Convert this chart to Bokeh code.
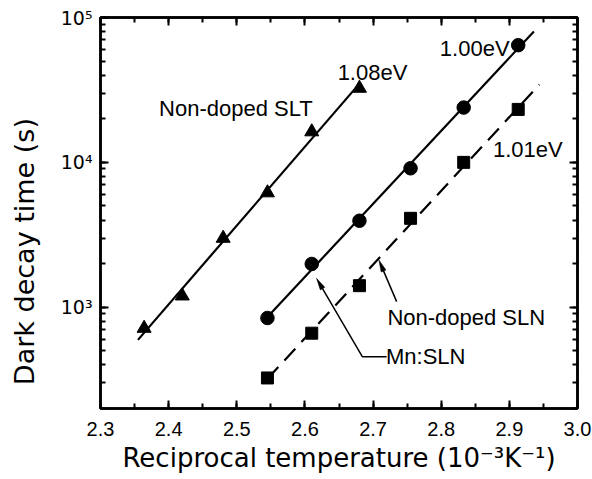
import numpy as np
from bokeh.plotting import figure
from bokeh.models import (Range1d, LinearAxis, LogAxis, FixedTicker, LogTicker,
                          Label, PrintfTickFormatter, CustomJSTickFormatter)
from bokeh.embed import file_html
from bokeh.resources import INLINE

# Reciprocal temperature (1e-3 / K) and dark decay time (s)
slt_x = [2.364, 2.42, 2.48, 2.545, 2.61, 2.68]
slt_t = [716, 1197, 2994, 6166, 16260, 32500]

sln_x = [2.545, 2.61, 2.68, 2.755, 2.833, 2.913]
sln_t = [843, 1990, 3955, 9100, 23900, 64400]

mn_x = [2.545, 2.61, 2.68, 2.755, 2.833, 2.913]
mn_t = [325, 662, 1409, 4110, 10000, 23200]

# Arrhenius activation energies (eV) and the span of each fitted line
slt_ea, sln_ea, mn_ea = 1.08, 1.00, 1.01
slt_fit_x = [2.355, 2.68]
sln_fit_x = [2.545, 2.936]
mn_fit_x = [2.545, 2.944]

x_ticks = [2.3, 2.4, 2.5, 2.6, 2.7, 2.8, 2.9, 3.0]
y_ticks = [1e3, 1e4, 1e5]
y_tick_labels = ["10\u00b3", "10\u2074", "10\u2075"]

x_title = "Reciprocal temperature (10\u207b\u00b3K\u207b\u00b9)"
y_title = "Dark decay time (s)"

K_B = 8.617e-5  # eV / K

X0, X1 = 2.3, 3.0
Y0, Y1 = 200, 1e5
FW, FH = 477, 391


def arrhenius(xs, ts, ea, span):
    """Line of slope Ea/k (x in 1e-3/K), intercept from a fixed-slope least-squares fit."""
    slope = ea / K_B * 1e-3 / np.log(10)
    icpt = np.mean(np.log10(ts)) - slope * np.mean(xs)
    sx = np.array(span)
    return sx, 10 ** (icpt + slope * sx)


def to_px(x, y):
    return ((x - X0) / (X1 - X0) * FW,
            np.log10(y / Y0) / np.log10(Y1 / Y0) * FH)


def to_data(px, py):
    return (X0 + px / FW * (X1 - X0),
            Y0 * 10 ** (py / FH * np.log10(Y1 / Y0)))


def pointer(fig, xs, ys, head_len=12, head_half=2.6):
    """Polyline ending in a slim filled arrowhead at its last vertex."""
    sx, sy = to_px(xs[-2], ys[-2])
    tx, ty = to_px(xs[-1], ys[-1])
    d = np.hypot(tx - sx, ty - sy)
    ux, uy = (tx - sx) / d, (ty - sy) / d
    bx, by = tx - ux * head_len, ty - uy * head_len
    shaft_end = to_data(bx + ux * 1.5, by + uy * 1.5)
    fig.line(list(xs[:-1]) + [shaft_end[0]], list(ys[:-1]) + [shaft_end[1]],
             line_width=1.5, color="black")
    corners = [(tx, ty), (bx - uy * head_half, by + ux * head_half),
               (bx + uy * head_half, by - ux * head_half)]
    hx, hy = zip(*[to_data(cx, cy) for cx, cy in corners])
    fig.patch(list(hx), list(hy), color="black", line_width=0.5)


TICK_FONT = "Liberation Sans"
LABEL_FONT = "DejaVu Sans"

p = figure(frame_width=FW, frame_height=FH,
           x_range=Range1d(X0, X1), y_range=Range1d(Y0, Y1),
           y_axis_type="log", output_backend="svg", toolbar_location=None,
           min_border_left=100, min_border_right=15, min_border_top=17,
           min_border_bottom=71, background_fill_color="white",
           border_fill_color="white")
p.grid.visible = False
p.outline_line_color = "black"
p.outline_line_width = 2.5

p.add_layout(LinearAxis(), "above")
p.add_layout(LogAxis(), "right")

for ax in p.axis:
    ax.axis_line_width = 2.5
    ax.axis_line_color = "black"
    ax.major_tick_in = 8
    ax.major_tick_out = 0
    ax.minor_tick_in = 5
    ax.minor_tick_out = 0
    ax.major_tick_line_width = 2
    ax.minor_tick_line_width = 2
    ax.major_tick_line_color = "black"
    ax.minor_tick_line_color = "black"

for ax in p.xaxis:
    ax.ticker = FixedTicker(ticks=x_ticks,
                            minor_ticks=list(np.round(np.arange(2.3, 3.0, 0.05), 2)))
for ax in p.yaxis:
    ax.ticker = LogTicker(num_minor_ticks=10)

bottom = p.below[0]
bottom.formatter = PrintfTickFormatter(format="%.1f")
bottom.major_label_text_font = TICK_FONT
bottom.major_label_text_font_size = "20px"
bottom.major_label_text_color = "black"
bottom.major_label_standoff = 13
bottom.axis_label = x_title
bottom.axis_label_text_font = LABEL_FONT
bottom.axis_label_text_font_size = "26px"
bottom.axis_label_text_font_style = "normal"
bottom.axis_label_text_color = "black"
bottom.axis_label_standoff = 4

left = p.left[0]
left.major_label_overrides = {v: s for v, s in zip(y_ticks, y_tick_labels)}
left.major_label_text_font = LABEL_FONT
left.major_label_text_font_size = "19px"
left.major_label_text_color = "black"
left.major_label_standoff = 8
# trailing no-break spaces push the centred title a little down the axis
left.axis_label = y_title + "\u00a0" * 9
left.axis_label_text_font = LABEL_FONT
left.axis_label_text_font_size = "27px"
left.axis_label_text_font_style = "normal"
left.axis_label_text_color = "black"
left.axis_label_standoff = 18

blank = CustomJSTickFormatter(code="return ''")
for ax in [p.above[0], p.right[0]]:
    ax.formatter = blank
    ax.major_label_text_font_size = "0px"
    ax.major_label_standoff = 0

# fitted lines
fx, fy = arrhenius(slt_x, slt_t, slt_ea, slt_fit_x)
p.line(fx, fy, line_width=2.2, color="black")
fx, fy = arrhenius(sln_x, sln_t, sln_ea, sln_fit_x)
p.line(fx, fy, line_width=2.2, color="black")
fx, fy = arrhenius(mn_x, mn_t, mn_ea, mn_fit_x)
p.line(fx, fy, line_width=2.2, color="black", line_dash="16 9")

# measured points
p.scatter(slt_x, slt_t, marker="triangle", size=14, color="black")
p.scatter(sln_x, sln_t, marker="circle", size=13.5, color="black")
p.scatter(mn_x, mn_t, marker="square", size=12, color="black")

# annotations
notes = [("Non-doped SLT", 2.386, 21200),
         ("1.08eV", 2.648, 37300),
         ("1.00eV", 2.798, 54900),
         ("1.01eV", 2.876, 10930),
         ("Non-doped SLN", 2.721, 755),
         ("Mn:SLN", 2.719, 406)]
for txt, x, y in notes:
    p.add_layout(Label(x=x, y=y, y_offset=7, text=txt, text_align="left",
                       text_baseline="alphabetic", text_font=TICK_FONT,
                       text_font_size="22px", text_color="black"))

# pointers from the sample labels to their lines
pointer(p, [2.7346, 2.7085], [1093, 2120])
pointer(p, [2.7199, 2.6842, 2.617], [456, 456, 1585])

open("out.html", "w").write(file_html(p, INLINE))
